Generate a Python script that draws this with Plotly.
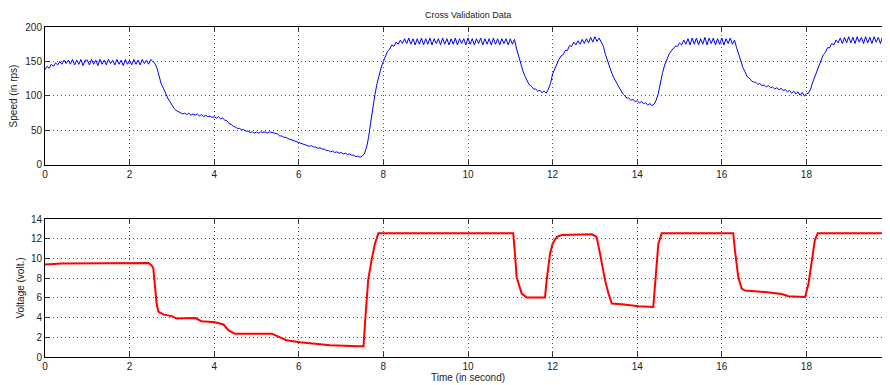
import plotly.graph_objects as go
from plotly.subplots import make_subplots

# ---- Speed (rps), sampled every 0.05 s from t=0 to t=20 ----
speed_dt = 0.05
speed_rows = [
    [138, 143, 140, 146, 143, 148, 145, 150, 146, 152, 147, 152, 146, 153, 145, 152, 146, 153, 144, 152],
    [152, 145, 153, 146, 152, 144, 153, 146, 152, 145, 153, 147, 152, 145, 153, 146, 152, 144, 153, 146],
    [152, 145, 153, 146, 152, 145, 153, 147, 152, 146, 153, 150, 147, 140, 128, 117, 111, 103, 97, 92],
    [86, 82, 79, 77, 76, 74, 75, 73, 75, 72, 74, 72, 74, 71, 73, 70, 72, 70, 71, 69],
    [70, 68, 70, 67, 68, 65, 64, 60, 59, 56, 55, 53, 53, 51, 51, 49, 49, 47, 48, 46],
    [48, 46, 48, 47, 48, 46, 48, 47, 47, 45, 45, 42, 42, 40, 40, 38, 37, 35, 35, 33],
    [33, 31, 31, 29, 29, 27, 28, 26, 26, 24, 25, 23, 23, 21, 21, 19, 20, 18, 19, 17],
    [18, 16, 17, 15, 16, 14, 14, 12, 13, 11, 13, 16, 25, 40, 62, 85, 102, 118, 132, 142],
    [150, 158, 165, 168, 174, 172, 178, 175, 181, 176, 183, 176, 184, 175, 183, 174, 183, 175, 184, 174],
    [183, 175, 184, 174, 183, 176, 183, 174, 184, 175, 183, 174, 183, 175, 184, 174, 183, 176, 183, 174],
    [184, 175, 183, 174, 183, 176, 184, 174, 183, 175, 183, 174, 184, 175, 183, 174, 183, 176, 183, 174],
    [183, 175, 182, 168, 156, 146, 136, 128, 122, 116, 114, 110, 110, 107, 108, 105, 107, 104, 110, 118],
    [132, 140, 148, 153, 158, 160, 166, 166, 173, 172, 178, 174, 180, 175, 182, 176, 183, 177, 185, 178],
    [186, 179, 184, 178, 172, 160, 150, 142, 133, 126, 120, 114, 109, 104, 101, 97, 97, 94, 95, 92],
    [93, 90, 92, 89, 90, 87, 89, 86, 88, 94, 104, 120, 134, 145, 153, 160, 165, 168, 172, 172],
    [177, 174, 181, 175, 183, 174, 184, 175, 184, 174, 183, 175, 185, 174, 184, 176, 184, 174, 183, 175],
    [184, 174, 183, 176, 184, 175, 181, 170, 160, 150, 141, 135, 128, 126, 122, 120, 120, 117, 118, 115],
    [116, 113, 115, 112, 113, 110, 112, 109, 111, 108, 109, 106, 108, 104, 107, 103, 106, 101, 105, 100],
    [103, 104, 110, 120, 128, 136, 146, 152, 160, 163, 170, 170, 176, 174, 181, 177, 184, 176, 185, 177],
    [186, 177, 185, 176, 186, 178, 185, 176, 186, 177, 185, 176, 186, 178, 185, 176, 186, 177, 185, 176],
]
speed_last = 185

# ---- Voltage (volt.) breakpoints ----
volt_t = [0, 0.05, 0.4, 2.45, 2.52, 2.56, 2.6, 2.64, 2.68, 2.8, 3.0, 3.11, 3.55, 3.7, 4.02,
          4.22, 4.34, 4.49, 5.36, 5.51, 5.71, 6.03, 6.46, 6.74, 7.41, 7.53, 7.57, 7.61, 7.64,
          7.72, 7.8, 7.88, 11.07, 11.11, 11.15, 11.27, 11.39, 11.82, 11.86, 11.94, 12.0, 12.1,
          12.22, 12.93, 13.04, 13.12, 13.24, 13.32, 13.4, 13.64, 14.03, 14.38, 14.42, 14.46,
          14.5, 14.58, 16.27, 16.31, 16.39, 16.47, 16.55, 17.02, 17.42, 17.57, 17.97, 18.05,
          18.13, 18.2, 18.27, 20]
volt_v = [9.39, 9.4, 9.5, 9.55, 9.3, 9.0, 7.1, 5.4, 4.6, 4.3, 4.15, 3.9, 3.95, 3.63, 3.53,
          3.3, 2.7, 2.37, 2.37, 2.1, 1.7, 1.5, 1.29, 1.19, 1.09, 1.1, 3.73, 5.76, 7.8,
          9.83, 11.5, 12.55, 12.55, 10.5, 8.1, 6.44, 6.03, 6.03, 7.8, 10.5, 11.5, 12.2,
          12.37, 12.45, 12.2, 10.5, 7.8, 6.44, 5.42, 5.35, 5.15, 5.08, 7.1, 9.8,
          11.5, 12.55, 12.55, 10.84, 8.1, 6.95, 6.75, 6.6, 6.4, 6.17, 6.1, 7.46,
          9.83, 11.86, 12.55, 12.55]

x_ticks = [0, 2, 4, 6, 8, 10, 12, 14, 16, 18, 20]
speed_ticks = [0, 50, 100, 150, 200]
volt_ticks = [0, 2, 4, 6, 8, 10, 12, 14]

speed_v = [v for row in speed_rows for v in row] + [speed_last]
speed_t = [round(i * speed_dt, 2) for i in range(len(speed_v))]

FONT = "Liberation Sans, Arial, sans-serif"

fig = make_subplots(rows=2, cols=1, vertical_spacing=0.164)
fig.add_trace(go.Scatter(x=speed_t, y=speed_v, mode="lines",
                         line=dict(color="#0000ff", width=1)), row=1, col=1)
fig.add_trace(go.Scatter(x=volt_t, y=volt_v, mode="lines",
                         line=dict(color="#ff0000", width=2)), row=2, col=1)

axis_common = dict(showline=True, linecolor="#000000", linewidth=1, mirror="ticks",
                   ticks="inside", ticklen=5, tickcolor="#333333", automargin=False,
                   ticklabeloverflow="allow",
                   showgrid=True, gridcolor="#555555", griddash="1px,3px", gridwidth=1,
                   zeroline=False, tickfont=dict(family=FONT, size=10, color="#222222"))

fig.update_xaxes(range=[0, 20], tickvals=x_ticks, **axis_common)
fig.update_yaxes(**axis_common)
fig.update_yaxes(range=[0, 200], tickvals=speed_ticks, row=1, col=1,
                 title=dict(text="Speed (in rps)", standoff=6,
                            font=dict(family=FONT, size=10, color="#222222")))
fig.update_yaxes(range=[0, 14], tickvals=volt_ticks, row=2, col=1,
                 title=dict(text="Voltage (volt.)", standoff=4,
                            font=dict(family=FONT, size=10, color="#222222")))
fig.update_xaxes(row=2, col=1,
                 title=dict(text="Time (in second)", standoff=2,
                            font=dict(family=FONT, size=10, color="#222222")))

# The page body adds an 8px offset; margins compensate so the plot lands where the reference has it.
fig.update_layout(
    width=890, height=385,
    margin=dict(l=37, r=7, t=19, b=36),
    paper_bgcolor="#ffffff", plot_bgcolor="#ffffff",
    showlegend=False,
    title=dict(text="Cross Validation Data", x=0.517, xanchor="center", y=0.982, yanchor="middle",
               font=dict(family=FONT, size=9, color="#222222")),
)

fig.write_html("out.html")
